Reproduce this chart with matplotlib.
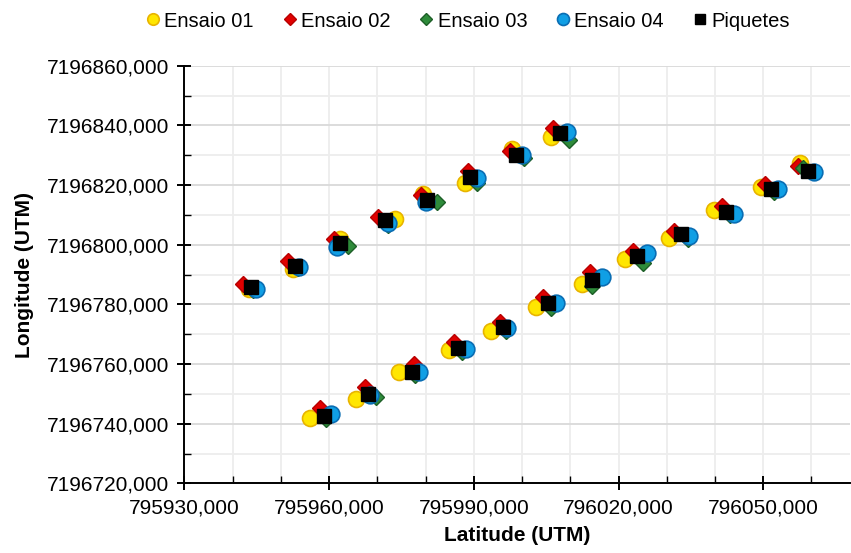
import matplotlib
matplotlib.use("Agg")
import matplotlib.pyplot as plt
from matplotlib.ticker import MultipleLocator, FuncFormatter

plt.rcParams['font.family'] = ['Liberation Sans', 'DejaVu Sans']

# -------------------------------------------------------------
# Data (UTM coordinates)
# -------------------------------------------------------------
piq_x = [795943.8, 795952.9, 795962.3, 795971.6, 795980.3, 795989.3, 795998.8, 796007.9,
         795959.0, 795968.1, 795977.2, 795986.7, 795996.0, 796005.3, 796014.6, 796023.9,
         796033.0, 796042.3, 796051.6, 796059.3]
piq_y = [7196785.9, 7196792.8, 7196800.6, 7196808.2, 7196815.1, 7196822.7, 7196830.2, 7196837.4,
         7196742.6, 7196750.0, 7196757.5, 7196765.3, 7196772.4, 7196780.5, 7196788.1, 7196796.2,
         7196803.5, 7196811.0, 7196818.8, 7196824.7]

e01_x = [795943.4, 795952.5, 795962.3, 795973.7, 795979.5, 795988.1, 795998.0, 796006.0,
         795956.1, 795965.6, 795974.5, 795984.8, 795993.5, 796002.8, 796012.5, 796021.4,
         796030.5, 796039.8, 796049.5, 796057.6]
e01_y = [7196785.2, 7196791.8, 7196801.9, 7196808.5, 7196817.1, 7196820.7, 7196832.2, 7196836.1,
         7196741.9, 7196748.3, 7196757.2, 7196764.6, 7196771.1, 7196779.2, 7196786.8, 7196795.2,
         7196802.2, 7196811.7, 7196819.5, 7196827.4]

e02_x = [795942.1, 795951.5, 795961.1, 795970.2, 795979.1, 795988.7, 795997.6, 796006.5,
         795958.2, 795967.5, 795977.6, 795985.9, 795995.4, 796004.3, 796014.0, 796023.1,
         796031.6, 796041.5, 796050.4, 796057.2]
e02_y = [7196786.9, 7196794.5, 7196801.9, 7196809.2, 7196816.8, 7196824.7, 7196831.5, 7196839.1,
         7196745.3, 7196752.3, 7196759.9, 7196767.3, 7196774.1, 7196782.5, 7196790.8, 7196797.9,
         7196804.5, 7196813.0, 7196820.5, 7196826.4]

e03_x = [795944.2, 795953.5, 795964.0, 795972.2, 795982.4, 795990.7, 796000.5, 796009.8,
         795959.4, 795969.8, 795977.8, 795987.5, 795996.6, 796005.9, 796014.6, 796025.1,
         796034.4, 796043.1, 796052.2, 796058.3]
e03_y = [7196784.9, 7196792.1, 7196799.6, 7196806.5, 7196814.4, 7196820.7, 7196829.2, 7196835.1,
         7196741.6, 7196749.0, 7196756.2, 7196764.0, 7196771.1, 7196778.8, 7196786.1, 7196793.9,
         7196801.8, 7196810.0, 7196817.8, 7196825.7]

e04_x = [795944.8, 795953.7, 795961.7, 795972.2, 795980.1, 795990.7, 796000.0, 796009.3,
         795960.4, 795968.5, 795978.6, 795988.4, 795996.8, 796007.0, 796016.5, 796026.0,
         796034.7, 796044.0, 796053.0, 796060.5]
e04_y = [7196785.2, 7196792.5, 7196799.3, 7196807.2, 7196814.4, 7196822.4, 7196830.2, 7196837.7,
         7196743.3, 7196749.7, 7196757.2, 7196765.0, 7196772.1, 7196780.5, 7196789.1, 7196797.2,
         7196802.8, 7196810.3, 7196818.8, 7196824.4]

# -------------------------------------------------------------
# Plot
# -------------------------------------------------------------
fig = plt.figure(figsize=(8.51, 5.53), dpi=100)
ax = fig.add_axes([0.2168, 0.1257, 0.782, 0.7555])

ax.plot(e01_x, e01_y, 'o', ms=11.5, mfc='#FFE600', mec='#E8B400', mew=1.2, label='Ensaio 01', zorder=3)
ax.plot(e02_x, e02_y, 'D', ms=8, mfc='#E00000', mec='#B80000', mew=1.0, label='Ensaio 02', zorder=4)
ax.plot(e03_x, e03_y, 'D', ms=8, mfc='#2E8B3A', mec='#1D5E27', mew=1.0, label='Ensaio 03', zorder=5)
ax.plot(e04_x, e04_y, 'o', ms=12, mfc='#109FE5', mec='#0A6DB3', mew=1.2, label='Ensaio 04', zorder=6)
ax.plot(piq_x, piq_y, 's', ms=10, mfc='black', mec='black', label='Piquetes', zorder=7)

ax.set_xlim(795930, 796068)
ax.set_ylim(7196720, 7196860)

ax.xaxis.set_major_locator(MultipleLocator(30))
ax.xaxis.set_minor_locator(MultipleLocator(10))
ax.yaxis.set_major_locator(MultipleLocator(20))
ax.yaxis.set_minor_locator(MultipleLocator(10))

fmt = FuncFormatter(lambda v, p: f"{v:.3f}".replace('.', ','))
ax.xaxis.set_major_formatter(fmt)
ax.yaxis.set_major_formatter(fmt)

ax.set_axisbelow(True)
ax.grid(which='minor', color='#EDEDED', lw=1.3)
ax.grid(which='major', axis='x', color='#EDEDED', lw=1.3)
ax.grid(which='major', axis='y', color='#D9D9D9', lw=1.3)

for s in ['top', 'right']:
    ax.spines[s].set_visible(False)
for s in ['left', 'bottom']:
    ax.spines[s].set_color('black')
    ax.spines[s].set_linewidth(1.4)

ax.tick_params(which='major', direction='inout', length=10, width=1.4, labelsize=15, pad=6)
ax.tick_params(which='minor', direction='in', length=5, width=1.0)

ax.set_xlabel("Latitude (UTM)", fontsize=15, fontweight='bold', labelpad=6)
ax.set_ylabel("Longitude (UTM)", fontsize=15, fontweight='bold', labelpad=9)

fig.legend(loc='center', bbox_to_anchor=(0.548, 0.962), ncol=5, frameon=False,
           fontsize=14.5, handletextpad=0.05, columnspacing=1.3, handlelength=1.0,
           markerscale=0.72)

fig.savefig("out.png", dpi=100)
